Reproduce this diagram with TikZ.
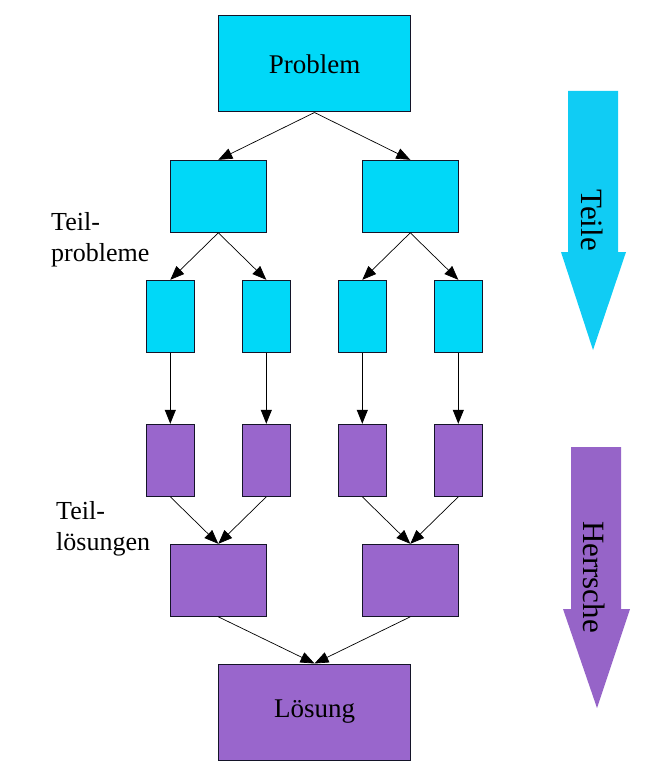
\documentclass[tikz,border=0pt]{standalone}
\usepackage{fontspec}
\setmainfont{Liberation Serif}
\usetikzlibrary{arrows.meta}
\definecolor{cy}{RGB}{0,216,248}
\definecolor{cyarrow}{RGB}{16,204,244}
\definecolor{pu}{RGB}{153,102,204}
\definecolor{pubig}{RGB}{150,100,200}
\definecolor{ink}{RGB}{20,20,40}
\tikzset{
  box/.style={draw=ink, line width=1pt, inner sep=0pt, font=\fontsize{27}{29}\selectfont},
  bigbox/.style={box, minimum width=192pt, minimum height=96pt},
  midbox/.style={box, minimum width=96pt, minimum height=72pt},
  smallbox/.style={box, minimum width=48pt, minimum height=72pt},
  cybox/.style={fill=cy},
  pubox/.style={fill=pu},
  conn/.style={line width=0.7pt, -{Triangle[length=14pt,width=11pt]}},
  lbl/.style={font=\fontsize{26}{31}\selectfont, align=left, anchor=north west, inner sep=0pt},
  bigtext/.style={font=\fontsize{31}{33}\selectfont, rotate=-90, inner sep=0pt}
}
\begin{document}
\begin{tikzpicture}[x=1pt,y=-1pt]
\useasboundingbox (0,0) rectangle (655,773);
% cyan part
\node[bigbox,cybox] (p) at (314.5,64) {Problem};
\node[midbox,cybox] (a) at (218.3,196.3) {};
\node[midbox,cybox] (b) at (410.3,196.3) {};
\node[smallbox,cybox] (a1) at (170.3,316.3) {};
\node[smallbox,cybox] (a2) at (266.3,316.3) {};
\node[smallbox,cybox] (b1) at (362.3,316.3) {};
\node[smallbox,cybox] (b2) at (458.3,316.3) {};
% purple part
\node[smallbox,pubox] (c1) at (170.3,460.3) {};
\node[smallbox,pubox] (c2) at (266.3,460.3) {};
\node[smallbox,pubox] (d1) at (362.3,460.3) {};
\node[smallbox,pubox] (d2) at (458.3,460.3) {};
\node[midbox,pubox] (c) at (218.3,580.3) {};
\node[midbox,pubox] (d) at (410.3,580.3) {};
\node[bigbox,pubox] (l) at (314.5,712) {Lösung};
% connectors
\draw[conn] (p.south) -- (a.north);
\draw[conn] (p.south) -- (b.north);
\draw[conn] (a.south) -- (a1.north);
\draw[conn] (a.south) -- (a2.north);
\draw[conn] (b.south) -- (b1.north);
\draw[conn] (b.south) -- (b2.north);
\draw[conn,line width=1pt] (a1.south) -- (c1.north);
\draw[conn,line width=1pt] (a2.south) -- (c2.north);
\draw[conn,line width=1pt] (b1.south) -- (d1.north);
\draw[conn,line width=1pt] (b2.south) -- (d2.north);
\draw[conn] (c1.south) -- (c.north);
\draw[conn] (c2.south) -- (c.north);
\draw[conn] (d1.south) -- (d.north);
\draw[conn] (d2.south) -- (d.north);
\draw[conn] (c.south) -- (l.north);
\draw[conn] (d.south) -- (l.north);
% labels
\node[lbl] (t1) at (51,212) {Teil-\\probleme};
\node[lbl] (t2) at (56,501) {Teil-\\lösungen};
% big arrows
\fill[cyarrow] (568,91) -- (618,91) -- (618,252) -- (626,252) -- (593,350) -- (561,252) -- (568,252) -- cycle;
\node[bigtext] (teile) at (592,220) {Teile};
\fill[pubig] (571,447) -- (621,447) -- (621,609) -- (630,609) -- (597,708) -- (563,609) -- (571,609) -- cycle;
\node[bigtext] (herr) at (594,577) {Herrsche};
\end{tikzpicture}
\end{document}
